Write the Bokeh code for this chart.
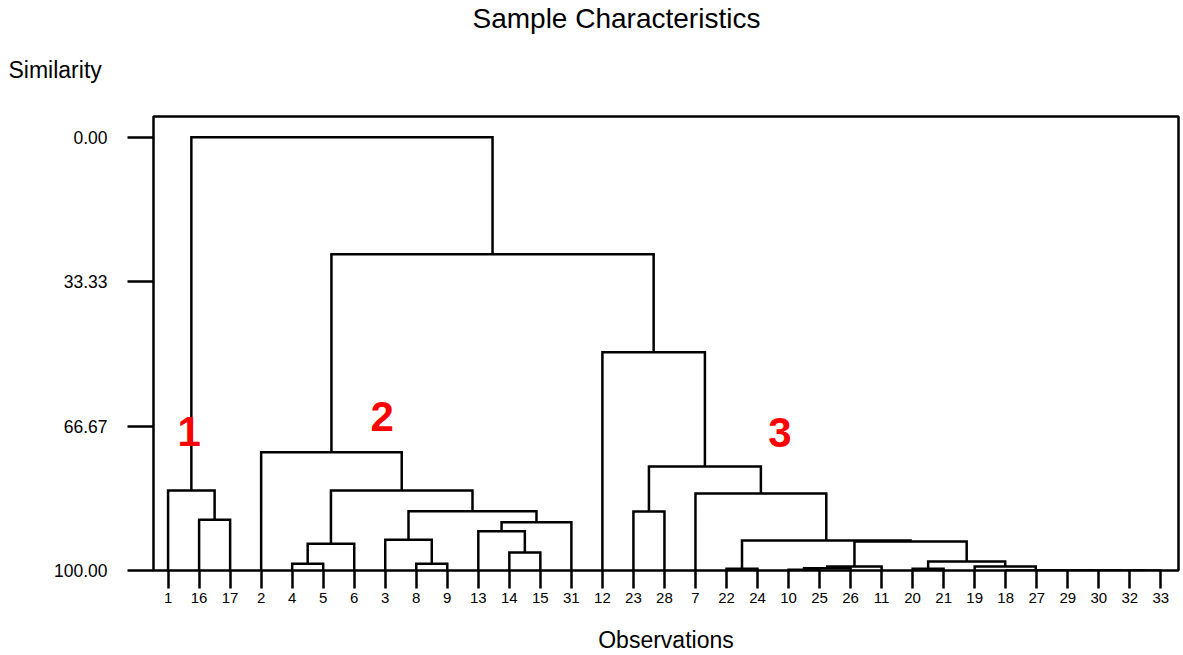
from bokeh.plotting import figure
from bokeh.models import Range1d, FixedTicker, NumeralTickFormatter, Title, ColumnDataSource
from bokeh.core.properties import value
from bokeh.embed import file_html
from bokeh.resources import INLINE

# ---- data ----
leaf_order = [1, 16, 17, 2, 4, 5, 6, 3, 8, 9, 13, 14, 15, 31, 12, 23, 28, 7,
              22, 24, 10, 25, 26, 11, 20, 21, 19, 18, 27, 29, 30, 32, 33]

# amalgamation steps (clusters joined, similarity level); new cluster keeps the smaller id
join_a = [32, 30, 29, 27, 18, 10, 20, 22, 10, 18, 10, 4, 8, 18, 14, 4,
          10, 10, 3, 13, 13, 16, 23, 3, 7, 1, 3, 7, 2, 7, 2, 1]
join_b = [33, 32, 30, 29, 27, 25, 21, 24, 26, 19, 11, 5, 9, 20, 15, 6,
          18, 22, 8, 14, 31, 17, 28, 13, 10, 16, 4, 23, 3, 12, 7, 2]
similarity = [100.0, 100.0, 100.0, 100.0, 100.0, 99.8, 99.6, 99.6, 99.5, 99.08,
              99.08, 98.45, 98.45, 97.92, 95.84, 93.83, 93.30, 93.07, 92.91, 90.92,
              88.84, 88.29, 86.37, 86.30, 82.22, 81.52, 81.52, 75.98, 72.68, 49.65,
              27.02, 0.0]

y_ticks = [0.0, 33.33, 66.67, 100.0]

group_labels = ["1", "2", "3"]
group_x = [0.68, 6.9, 19.72]
group_y = [68.0, 64.5, 68.1]

# ---- build dendrogram paths ----
pos = {leaf: float(i) for i, leaf in enumerate(leaf_order)}
lev = {leaf: 100.0 for leaf in leaf_order}
xs, ys = [], []
for a, b, s in zip(join_a, join_b, similarity):
    xa, xb = pos[a], pos[b]
    xs.append([xa, xa, xb, xb])
    ys.append([lev[a], s, s, lev[b]])
    new = min(a, b)
    pos[new] = (xa + xb) / 2.0
    lev[new] = s

FONT = "Liberation Sans"
LW = 2.5

p = figure(width=1180, height=655,
           x_range=Range1d(-0.47, 32.57), y_range=Range1d(100, -4.78),
           output_backend="svg", toolbar_location=None,
           min_border_left=153, min_border_right=2,
           min_border_top=116, min_border_bottom=84)
p.title = Title(text="Sample Characteristics", align="left", offset=319,
                text_font=FONT, text_font_size="28px", text_font_style="normal",
                text_color="black", standoff=-26)
p.add_layout(Title(text="Similarity", align="left", offset=-145,
                   text_font=FONT, text_font_size="23px", text_font_style="normal",
                   text_color="black", standoff=68), "above")
p.grid.visible = False
p.background_fill_color = "white"
p.border_fill_color = "white"
p.outline_line_color = "black"
p.outline_line_width = LW

p.multi_line(xs=xs, ys=ys, line_color="black", line_width=LW, line_join="miter")

# x axis
xa = p.xaxis[0]
xa.ticker = FixedTicker(ticks=list(range(len(leaf_order))))
xa.major_label_overrides = {i: str(l) for i, l in enumerate(leaf_order)}
xa.axis_line_color = None
xa.major_tick_in = 0
xa.major_tick_out = 18
xa.major_tick_line_width = LW
xa.major_tick_line_color = "black"
xa.minor_tick_line_color = None
xa.major_label_standoff = 4
xa.major_label_text_font = FONT
xa.major_label_text_font_size = "15px"
xa.major_label_text_color = "black"
xa.axis_label = "Observations"
xa.axis_label_text_font = FONT
xa.axis_label_text_font_size = "23px"
xa.axis_label_text_font_style = "normal"
xa.axis_label_text_color = "black"
xa.axis_label_standoff = 21

# y axis
ya = p.yaxis[0]
ya.ticker = FixedTicker(ticks=y_ticks)
ya.formatter = NumeralTickFormatter(format="0.00")
ya.axis_line_color = None
ya.major_tick_in = 0
ya.major_tick_out = 26
ya.major_tick_line_width = LW
ya.major_tick_line_color = "black"
ya.minor_tick_line_color = None
ya.major_label_standoff = 20
ya.major_label_text_font = FONT
ya.major_label_text_font_size = "17.5px"
ya.major_label_text_color = "black"
ya.major_label_text_baseline = "alphabetic"

# red group labels
src = ColumnDataSource(dict(x=group_x, y=group_y, t=group_labels))
p.text(x="x", y="y", text="t", source=src, text_color="red",
       text_font=value(FONT), text_font_style="bold", text_font_size="42px",
       text_align="center", text_baseline="middle")

open("out.html", "w").write(file_html(p, INLINE))
